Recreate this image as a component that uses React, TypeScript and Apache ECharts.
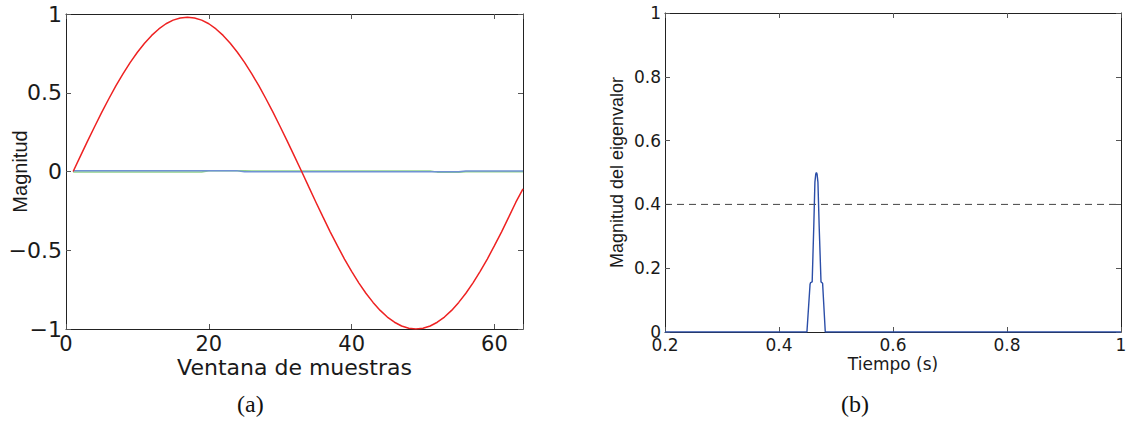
import React, { useEffect, useRef } from 'react';
import * as echarts from 'echarts';

// ---- Panel (a): sample window ----
const samples = [
  1, 2, 3, 4, 5, 6, 7, 8, 9, 10, 11, 12, 13, 14, 15, 16, 17, 18, 19, 20,
  21, 22, 23, 24, 25, 26, 27, 28, 29, 30, 31, 32, 33, 34, 35, 36, 37, 38, 39, 40,
  41, 42, 43, 44, 45, 46, 47, 48, 49, 50, 51, 52, 53, 54, 55, 56, 57, 58, 59, 60,
  61, 62, 63, 64,
];
const redWave = [
  0, 0.096, 0.191, 0.284, 0.375, 0.462, 0.545, 0.621, 0.693, 0.757,
  0.814, 0.864, 0.905, 0.938, 0.961, 0.975, 0.98, 0.975, 0.961, 0.938,
  0.905, 0.864, 0.814, 0.757, 0.693, 0.621, 0.545, 0.462, 0.375, 0.284,
  0.191, 0.096, 0, -0.098, -0.195, -0.29, -0.383, -0.471, -0.556, -0.634,
  -0.707, -0.773, -0.831, -0.882, -0.924, -0.957, -0.981, -0.995, -1.0, -0.995,
  -0.981, -0.957, -0.924, -0.882, -0.831, -0.773, -0.707, -0.634, -0.556, -0.471,
  -0.383, -0.29, -0.195, -0.11,
];
const blueWave = [
  0.004, 0.004, 0.004, 0.004, 0.004, 0.004, 0.004, 0.004, 0.004, 0.004,
  0.004, 0.004, 0.004, 0.004, 0.004, 0.004, 0.004, 0.004, 0.004, 0.004,
  0.004, 0.004, 0.004, 0.004, -0.002, -0.002, -0.002, -0.002, -0.002, -0.002,
  -0.002, -0.002, -0.002, -0.002, -0.002, -0.002, -0.002, -0.002, -0.002, -0.002,
  -0.002, -0.002, -0.002, -0.002, -0.002, -0.002, -0.002, -0.002, -0.002, -0.002,
  -0.002, -0.002, -0.002, -0.002, -0.002, 0.003, 0.003, 0.003, 0.003, 0.003,
  0.003, 0.003, 0.003, 0.003,
];
const greenWave = [
  -0.003, -0.003, -0.003, -0.003, -0.003, -0.003, -0.003, -0.003, -0.003, -0.003,
  -0.003, -0.003, -0.003, -0.003, -0.003, -0.003, -0.003, -0.003, -0.003, 0.005,
  0.005, 0.005, 0.005, 0.005, 0.005, 0.003, 0.003, 0.003, 0.003, 0.003,
  0.003, 0.003, 0.003, 0.003, 0.003, 0.003, 0.003, 0.003, 0.003, 0.003,
  0.003, 0.003, 0.003, 0.003, 0.003, 0.003, 0.003, 0.003, 0.003, 0.003,
  0.003, -0.004, -0.004, -0.004, -0.004, -0.002, -0.002, -0.002, -0.002, -0.002,
  -0.002, -0.002, -0.002, -0.002,
];

// ---- Panel (b): eigenvalue magnitude over time ----
const timeS = [0.2, 0.449, 0.4545, 0.4555, 0.4582, 0.461, 0.463, 0.4645, 0.4656, 0.4668, 0.4683, 0.4705, 0.4737, 0.4765, 0.4812, 1];
const eigenMag = [0, 0, 0.15, 0.155, 0.157, 0.33, 0.47, 0.495, 0.5, 0.495, 0.47, 0.33, 0.157, 0.153, 0, 0];
const thresholdTime = [0.2, 1];
const thresholdValue = [0.4, 0.4];

const captions = ['(a)', '(b)'];

const SANS_WIDE = 'DejaVu Sans';
const SANS = 'Liberation Sans';
const TXT = '#1a1a1a';

function boxAxes(gridIndex: number, kind: 'x' | 'y', min: number, max: number, interval: number) {
  const pos = kind === 'x' ? 'top' : 'right';
  return {
    gridIndex,
    type: 'value',
    min,
    max,
    interval,
    position: pos,
    axisLine: { show: true, onZero: false, lineStyle: { color: '#222', width: 1 } },
    axisTick: { show: true, inside: true, length: 5, lineStyle: { color: '#555' } },
    axisLabel: { show: false },
    splitLine: { show: false },
  };
}

export default function App() {
  const ref = useRef<HTMLDivElement>(null);

  useEffect(() => {
    if (!ref.current) return;
    const chart = echarts.init(ref.current, undefined, { renderer: 'svg' });

    const minusFmt = (v: number) => (v < 0 ? '\u2212' + String(Math.abs(v)) : String(v));

    chart.setOption({
      animation: false,
      backgroundColor: '#ffffff',
      grid: [
        { left: 66, right: 1128 - 523, top: 14, bottom: 421 - 329, containLabel: false, outerBoundsMode: 'none' },
        { left: 665, right: 1128 - 1121, top: 13, bottom: 421 - 332, containLabel: false, outerBoundsMode: 'none' },
      ],
      xAxis: [
        {
          gridIndex: 0,
          type: 'value',
          min: 0,
          max: 64,
          interval: 20,
          position: 'bottom',
          axisLine: { show: true, onZero: false, lineStyle: { color: '#222', width: 1 } },
          axisTick: { show: true, inside: true, length: 5, lineStyle: { color: '#555' } },
          axisLabel: {
            show: true,
            margin: 4,
            fontFamily: SANS_WIDE,
            fontSize: 21,
            color: TXT,
            formatter: (v: number) => (v > 63 ? '' : String(v)),
          },
          splitLine: { show: false },
          name: 'Ventana de muestras',
          nameLocation: 'middle',
          nameGap: 27,
          nameMoveOverlap: false,
          nameTextStyle: { fontFamily: SANS_WIDE, fontSize: 22, color: TXT },
        },
        boxAxes(0, 'x', 0, 64, 20),
        {
          gridIndex: 1,
          type: 'value',
          min: 0.2,
          max: 1,
          interval: 0.2,
          position: 'bottom',
          axisLine: { show: true, onZero: false, lineStyle: { color: '#222', width: 1 } },
          axisTick: { show: true, inside: true, length: 5, lineStyle: { color: '#555' } },
          axisLabel: { show: true, margin: 4, fontFamily: SANS_WIDE, fontSize: 17, color: TXT },
          splitLine: { show: false },
          name: 'Tiempo (s)',
          nameLocation: 'middle',
          nameGap: 23,
          nameMoveOverlap: false,
          nameTextStyle: { fontFamily: SANS_WIDE, fontSize: 17, color: TXT },
        },
        boxAxes(1, 'x', 0.2, 1, 0.2),
      ],
      yAxis: [
        {
          gridIndex: 0,
          type: 'value',
          min: -1,
          max: 1,
          interval: 0.5,
          position: 'left',
          axisLine: { show: true, onZero: false, lineStyle: { color: '#222', width: 1 } },
          axisTick: { show: true, inside: true, length: 5, lineStyle: { color: '#555' } },
          axisLabel: { show: true, margin: 4, fontFamily: SANS_WIDE, fontSize: 22, color: TXT, formatter: minusFmt },
          splitLine: { show: false },
          name: 'Magnitud',
          nameLocation: 'middle',
          nameGap: 36,
          nameMoveOverlap: false,
          nameTextStyle: { fontFamily: SANS, fontSize: 20, color: TXT },
        },
        boxAxes(0, 'y', -1, 1, 0.5),
        {
          gridIndex: 1,
          type: 'value',
          min: 0,
          max: 1,
          interval: 0.2,
          position: 'left',
          axisLine: { show: true, onZero: false, lineStyle: { color: '#222', width: 1 } },
          axisTick: { show: true, inside: true, length: 5, lineStyle: { color: '#555' } },
          axisLabel: { show: true, margin: 4, fontFamily: SANS_WIDE, fontSize: 17, color: TXT },
          splitLine: { show: false },
          name: 'Magnitud del eigenvalor',
          nameLocation: 'middle',
          nameGap: 39,
          nameMoveOverlap: false,
          nameTextStyle: { fontFamily: SANS, fontSize: 18, color: TXT },
        },
        boxAxes(1, 'y', 0, 1, 0.2),
      ],
      series: [
        {
          type: 'line',
          xAxisIndex: 0,
          yAxisIndex: 0,
          showSymbol: false,
          symbol: 'none',
          data: samples.map((s, i) => [s, greenWave[i]]),
          lineStyle: { color: '#8fd18a', width: 1.5 },
        },
        {
          type: 'line',
          xAxisIndex: 0,
          yAxisIndex: 0,
          showSymbol: false,
          symbol: 'none',
          data: samples.map((s, i) => [s, blueWave[i]]),
          lineStyle: { color: '#7092d4', width: 1.5 },
        },
        {
          type: 'line',
          xAxisIndex: 0,
          yAxisIndex: 0,
          showSymbol: false,
          symbol: 'none',
          data: samples.map((s, i) => [s, redWave[i]]),
          lineStyle: { color: '#ee2222', width: 1.5 },
        },
        {
          type: 'line',
          xAxisIndex: 2,
          yAxisIndex: 2,
          showSymbol: false,
          symbol: 'none',
          data: thresholdTime.map((t, i) => [t, thresholdValue[i]]),
          lineStyle: { color: '#444', width: 1, type: [7, 5] },
        },
        {
          type: 'line',
          xAxisIndex: 2,
          yAxisIndex: 2,
          showSymbol: false,
          symbol: 'none',
          data: timeS.map((t, i) => [t, eigenMag[i]]),
          lineStyle: { color: '#2b4ea8', width: 1.4 },
        },
      ],
      graphic: [
        {
          type: 'text',
          left: 254 - 17,
          top: 392,
          style: { text: captions[0], font: '24px "Liberation Serif"', fill: '#111' },
        },
        {
          type: 'text',
          left: 858 - 17,
          top: 392,
          style: { text: captions[1], font: '24px "Liberation Serif"', fill: '#111' },
        },
      ],
    });

    return () => chart.dispose();
  }, []);

  return (
    <div
      ref={ref}
      style={{ position: 'absolute', left: 0, top: 0, width: 1128, height: 421, background: '#fff' }}
    />
  );
}
